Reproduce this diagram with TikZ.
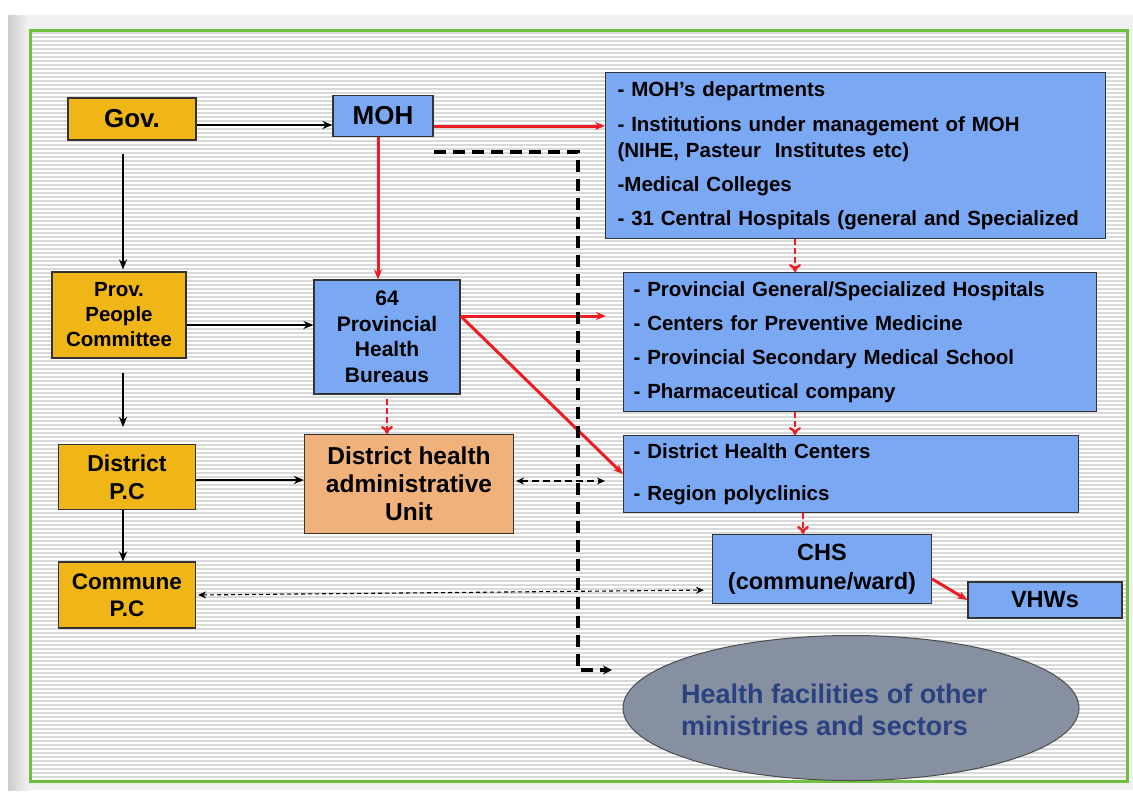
\documentclass[tikz,border=0pt]{standalone}
\usepackage{fontspec}
\setmainfont{Liberation Sans}
\usetikzlibrary{arrows.meta}
\usetikzlibrary{calc}
\usetikzlibrary{positioning}
\usetikzlibrary{shapes.geometric}

\definecolor{gov-yellow}{RGB}{240,182,24}
\definecolor{moh-blue}{RGB}{123,168,243}
\definecolor{unit-orange}{RGB}{240,178,122}
\definecolor{sector-grey}{RGB}{134,144,160}
\definecolor{sector-ink}{RGB}{42,66,130}
\definecolor{frame-green}{RGB}{112,192,64}
\definecolor{arrow-red}{RGB}{236,28,36}

\newcommand{\fsz}[2]{\fontsize{#1}{#2}\selectfont}

\begin{document}
\begin{tikzpicture}[%
            x=1pt, y=-1pt,
            box/.style={%
              draw=black!80,
              line width=1.2pt,
              inner sep=0pt,
              align=center,
              font=\bfseries,
            },
            people/.style={box, fill=gov-yellow},
            health/.style={box, fill=moh-blue},
            listbox/.style={%
              health,
              align=left,
              anchor=north west,
              inner xsep=12pt,
              font=\bfseries\fsz{20.5}{26},
            },
            stripe/.style={gray!30, line width=1.6pt},
            link/.style={-{Stealth[length=10pt,width=8pt]}, line width=2.2pt},
            redlink/.style={link, arrow-red, line width=3pt},
            redstep/.style={%
              arrow-red,
              line width=2.4pt,
              dash pattern=on 6pt off 3pt,
              -{To[length=8pt,width=12pt]},
            },
            twoway/.style={%
              {Stealth[length=8pt,width=7pt]}-{Stealth[length=8pt,width=7pt]},
              line width=1.6pt,
              dash pattern=on 7pt off 4pt,
            },
          ]
            % frame and striped paper
            \useasboundingbox (0,0) rectangle (1133,796);
            \fill [white] (0,0) rectangle (1133,796);
            \fill [gray!12] (8,15) rectangle (1133,790);
            \shade [left color=gray!40, right color=gray!8] (8,15) rectangle (30,790);
            \fill [white] (30,30) rectangle (1127,781);
            \foreach \row in {33,37,...,779}
              \draw [stripe] (31,\row) -- (1126,\row);
            \draw [frame-green, line width=3pt] (30,30) rectangle (1127,781);

            % administrative line
            \node [%
              people,
              minimum width=128pt,
              minimum height=42pt,
              font=\bfseries\fsz{26}{28},
            ] (gov) at (132,119) {Gov.};
            \node [%
              people,
              minimum width=134pt,
              minimum height=86pt,
              font=\bfseries\fsz{20.5}{25},
            ] (prov) at (119,315) {Prov.\\People\\Committee};
            \node [%
              people,
              minimum width=137pt,
              minimum height=65pt,
              font=\bfseries\fsz{23}{28},
            ] (district) at (127,477) {District\\P.C};
            \node [%
              people,
              minimum width=137pt,
              minimum height=66pt,
              font=\bfseries\fsz{22.5}{27},
            ] (commune) at (127,595) {Commune\\P.C};

            % health line
            \node [%
              health,
              minimum width=100pt,
              minimum height=41pt,
              font=\bfseries\fsz{26}{28},
            ] (moh) at (383,116) {MOH};
            \node [%
              health,
              minimum width=146pt,
              minimum height=114pt,
              font=\bfseries\fsz{21}{25.5},
            ] (bureaus) at (387,337) {64\\Provincial\\Health\\Bureaus};
            \node [%
              box,
              fill=unit-orange,
              minimum width=209pt,
              minimum height=99pt,
              font=\bfseries\fsz{24.5}{28},
            ] (unit) at (409,484) {District health\\administrative\\Unit};
            \node [%
              health,
              minimum width=219pt,
              minimum height=69pt,
              font=\bfseries\fsz{23.5}{29},
            ] (chs) at (822,569) {CHS\\(commune/ward)};
            \node [%
              health,
              minimum width=154pt,
              minimum height=36pt,
              font=\bfseries\fsz{23.5}{26},
            ] (vhws) at (1045,600) {VHWs};

            % facility lists
            \node [%
              listbox,
              text width=476pt,
              minimum height=166pt,
            ] (mohlist) at (605,72) {%
              - MOH’s departments\\[9pt]
              - Institutions under management of MOH\\
              (NIHE, Pasteur\ \ Institutes etc)\\[8pt]
              -Medical Colleges\\[8pt]
              - 31 Central Hospitals (general and Specialized};
            \node [%
              listbox,
              inner xsep=10pt,
              text width=453pt,
              minimum height=139pt,
            ] (provlist) at (623,272) {%
              - Provincial General/Specialized Hospitals\\[8pt]
              - Centers for Preventive Medicine\\[8pt]
              - Provincial Secondary Medical School\\[8pt]
              - Pharmaceutical company};
            \node [%
              listbox,
              inner xsep=10pt,
              text width=435pt,
              minimum height=77pt,
            ] (distlist) at (623,435) {%
              - District Health Centers\\[16pt]
              - Region polyclinics};

            % other sectors
            \node [%
              ellipse,
              draw=black!70,
              line width=1pt,
              fill=sector-grey,
              minimum width=456pt,
              minimum height=145pt,
            ] (sectors) at (851,708) {};
            \node [%
              text=sector-ink,
              align=left,
              anchor=west,
              inner sep=0pt,
              font=\bfseries\fsz{27}{32},
            ] (sectors text) at (681,710) {Health facilities of other\\ministries and sectors};

            % black connectors
            \draw [link] ([yshift=-6pt]gov.east) -- ([yshift=-6pt]gov.east -| moh.west);
            \draw [link, shorten <=13pt, shorten >=2pt] ([xshift=-9pt]gov.south) -- ([xshift=-9pt]gov.south |- prov.north);
            \draw [link] ([yshift=-10pt]prov.east) -- ([yshift=-10pt]prov.east -| bureaus.west);
            \draw [link, shorten <=14pt, shorten >=17pt] ([xshift=4pt]prov.south) -- ([xshift=4pt]prov.south |- district.north);
            \draw [link] ([yshift=-3pt]district.east) -- ([yshift=-3pt]district.east -| unit.west);
            \draw [link] ([xshift=-4pt]district.south) -- ([xshift=-4pt]district.south |- commune.north);

            % red connectors
            \draw [redlink] ([xshift=-5pt]moh.south) -- ([xshift=-5pt]moh.south |- bureaus.north);
            \draw [redlink] ([yshift=-10pt]moh.east) -- ([yshift=-10pt]moh.east -| mohlist.west);
            \coordinate (fork) at ([yshift=21pt]bureaus.east);
            \draw [redlink, shorten >=17pt] (fork) -- (fork -| provlist.west);
            \draw [redlink] (fork) -- (distlist.west);
            \draw [redlink] ([yshift=-10pt]chs.east) -- (vhws.west);
            \draw [redstep, shorten <=4pt] (bureaus.south) -- (bureaus.south |- unit.north);
            \coordinate (central out) at ($(mohlist.south west)+(190,0)$);
            \coordinate (prov out) at ($(provlist.south west)+(172,0)$);
            \coordinate (district out) at ($(distlist.south west)+(180,0)$);
            \draw [redstep] (central out) -- (central out |- provlist.north);
            \draw [redstep] (prov out) -- (prov out |- distlist.north);
            \draw [redstep] (district out) -- (district out |- chs.north);

            % dashed links
            \draw [twoway, shorten <=2pt, shorten >=18pt] ([yshift=3pt]unit.east) -- ([yshift=3pt]unit.east -| distlist.west);
            \draw [%
              twoway,
              line width=1.1pt,
              dash pattern=on 4pt off 3pt,
              shorten <=2pt,
              shorten >=8pt,
            ] (commune.east) -- ([yshift=-21pt]chs.west);
            \coordinate (bend top) at (578,152);
            \coordinate (bend low) at (578,670);
            \draw [%
              line width=4pt,
              dash pattern=on 12pt off 7pt,
              -{Stealth[length=9pt,width=9pt]},
            ] (moh.east |- bend top) -- (bend top) -- (bend low) -- ++(34,0);
          \end{tikzpicture}
\end{document}
